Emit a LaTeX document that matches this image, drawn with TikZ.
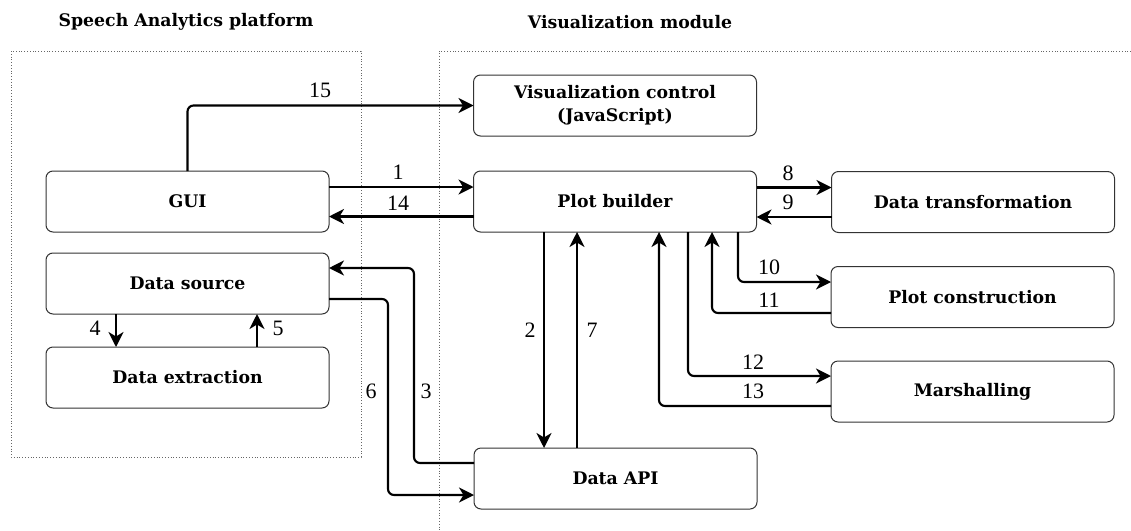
\documentclass[tikz,border=0pt]{standalone}
\usepackage{fontspec}
\setmainfont{DejaVu Serif}
\newfontfamily\numfont{Liberation Serif}
\usetikzlibrary{arrows.meta}
\begin{document}
\begin{tikzpicture}[x=1pt,y=-1pt,
  box/.style={draw=black!80, line width=1pt, rounded corners=7pt, fill=white,
    minimum width=283pt, minimum height=61pt, inner sep=0pt, outer sep=0pt,
    align=center, font=\fontsize{17.3}{23}\selectfont\bfseries},
  title/.style={font=\fontsize{17.3}{20}\selectfont\bfseries},
  conn/.style={line width=2.1pt, rounded corners=6pt,
    -{Stealth[length=15pt, width=15pt, inset=4.5pt]}},
  lbl/.style={font=\numfont\fontsize{22}{24}\selectfont, inner sep=0pt},
  frame/.style={draw=black!60, dotted, line width=0.8pt}]
\useasboundingbox (0,0) rectangle (1131,530);

% group frames and their headings
\draw[frame] (11,51) rectangle (361,457);
\draw[frame] (1131,51) -- (439,51) -- (439,530);
\node[title] (t1) at (186,22) {Speech Analytics platform};
\node[title] (t2) at (630,22) {Visualization module};

% speech analytics side
\node[box] (gui) at (187.5,201.5) {GUI};
\node[box] (src) at (187.5,283.5) {Data source};
\node[box] (ext) at (187.5,377.5) {Data extraction};

% visualization side
\node[box] (ctl) at (615,105.5) {Visualization control\\(JavaScript)};
\node[box] (pb)  at (615,201.5) {Plot builder};
\node[box] (api) at (615.5,478.5) {Data API};
\node[box] (dt)  at (973,202) {Data transformation};
\node[box] (pc)  at (972.5,297) {Plot construction};
\node[box] (ms)  at (972.5,391.5) {Marshalling};

% connectors
\draw[conn] (gui.north) |- (ctl.west);
\draw[conn] (gui.east |- 0,187) -- (pb.west |- 0,187);
\draw[conn] (pb.west |- 0,216.5) -- (gui.east |- 0,216.5);
\draw[conn] (pb.south -| 544,0) -- (api.north -| 544,0);
\draw[conn] (api.west |- 0,463) -| (414,268) -- (src.east |- 0,268);
\draw[conn] (src.south -| 116,0) -- (ext.north -| 116,0);
\draw[conn] (ext.north -| 257,0) -- (src.south -| 257,0);
\draw[conn] (src.east |- 0,299) -| (388,495) -- (api.west |- 0,495);
\draw[conn] (api.north -| 577,0) -- (pb.south -| 577,0);
\draw[conn] (pb.east |- 0,187.5) -- (dt.west |- 0,187.5);
\draw[conn] (dt.west |- 0,217) -- (pb.east |- 0,217);
\draw[conn] (pb.south -| 738,0) |- (pc.west |- 0,282);
\draw[conn] (pc.west |- 0,313) -| (pb.south -| 712,0);
\draw[conn] (pb.south -| 688,0) |- (ms.west |- 0,376);
\draw[conn] (ms.west |- 0,406) -| (pb.south -| 659,0);

% step numbers
\node[lbl] (n1)  at (398,172) {1};
\node[lbl] (n2)  at (530,330) {2};
\node[lbl] (n3)  at (426,391) {3};
\node[lbl] (n4)  at (95,328) {4};
\node[lbl] (n5)  at (278,328) {5};
\node[lbl] (n6)  at (371,391) {6};
\node[lbl] (n7)  at (592,330) {7};
\node[lbl] (n8)  at (788,173) {8};
\node[lbl] (n9)  at (788,202) {9};
\node[lbl] (n10) at (769,267) {10};
\node[lbl] (n11) at (769,300) {11};
\node[lbl] (n12) at (753,362) {12};
\node[lbl] (n13) at (753,391) {13};
\node[lbl] (n14) at (398,203) {14};
\node[lbl] (n15) at (320,90) {15};
\end{tikzpicture}
\end{document}
